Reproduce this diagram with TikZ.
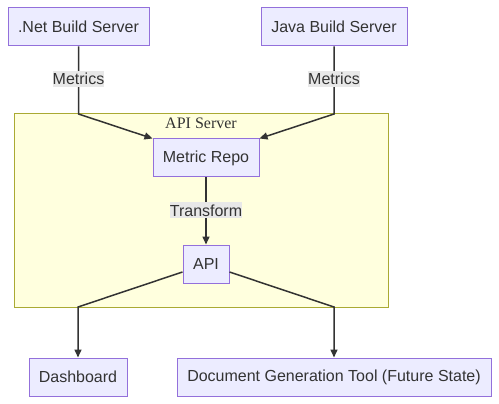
\documentclass[tikz,border=0pt]{standalone}
\usepackage{fontspec}
\setmainfont{Liberation Sans}
\newfontfamily\titlefont{Liberation Serif}
\usetikzlibrary{arrows.meta,calc}
\definecolor{nodefill}{HTML}{ECECFF}
\definecolor{nodeborder}{HTML}{9370DB}
\definecolor{clusterfill}{HTML}{FFFFDE}
\definecolor{clusterborder}{HTML}{AAAA33}
\definecolor{edgecol}{HTML}{333333}
\definecolor{labelbg}{HTML}{E8E8E8}
\begin{document}
\begin{tikzpicture}[x=1pt,y=-1pt,
  every node/.style={font=\fontsize{16}{19}\selectfont, text=edgecol},
  box/.style={draw=nodeborder, fill=nodefill, line width=1pt, minimum height=38pt, inner sep=0pt},
  elabel/.style={fill=labelbg, inner sep=0pt, minimum height=16pt},
  conn/.style={draw=edgecol, line width=1.5pt, -{Triangle[length=8pt,width=7pt]}},
]
\useasboundingbox (0,0) rectangle (499,404);
% cluster
\draw[fill=clusterfill, draw=clusterborder, line width=1pt] (14,114) rectangle (388,307);
\node[font=\titlefont\fontsize{16}{19}\selectfont, text=edgecol] (title) at (201,123) {API Server};
% nodes
\node[box, minimum width=141pt] (net) at (78.5,27) {.Net Build Server};
\node[box, minimum width=146pt] (java) at (334,27) {Java Build Server};
\node[box, minimum width=106pt] (repo) at (206,158) {Metric Repo};
\node[box, minimum width=46pt] (api) at (206,264) {API};
\node[box, minimum width=98pt] (dash) at (78,377) {Dashboard};
\node[box, minimum width=314pt] (doc) at (334,377) {Document Generation Tool (Future State)};
% bend coordinates
\coordinate (b1) at (78.5,114);
\coordinate (b2) at (334,114);
\coordinate (b3) at (78,307);
\coordinate (b4) at (334,307);
\coordinate (a1) at ($(api.west)+(0,8)$);
\coordinate (a2) at ($(api.east)+(0,8)$);
% edges
\draw[conn] (net.south) -- (b1) -- (repo.north west);
\draw[conn] (java.south) -- (b2) -- (repo.north east);
\draw[conn] (repo.south) -- (api.north);
\draw[conn] (a1) -- (b3) -- (dash.north);
\draw[conn] (a2) -- (b4) -- (doc.north);
% labels
\node[elabel, minimum width=49pt] (l1) at (78.5,79) {Metrics};
\node[elabel, minimum width=49pt] (l2) at (334,79) {Metrics};
\node[elabel, minimum width=67pt] (l3) at (206,210.5) {Transform};
\end{tikzpicture}
\end{document}
